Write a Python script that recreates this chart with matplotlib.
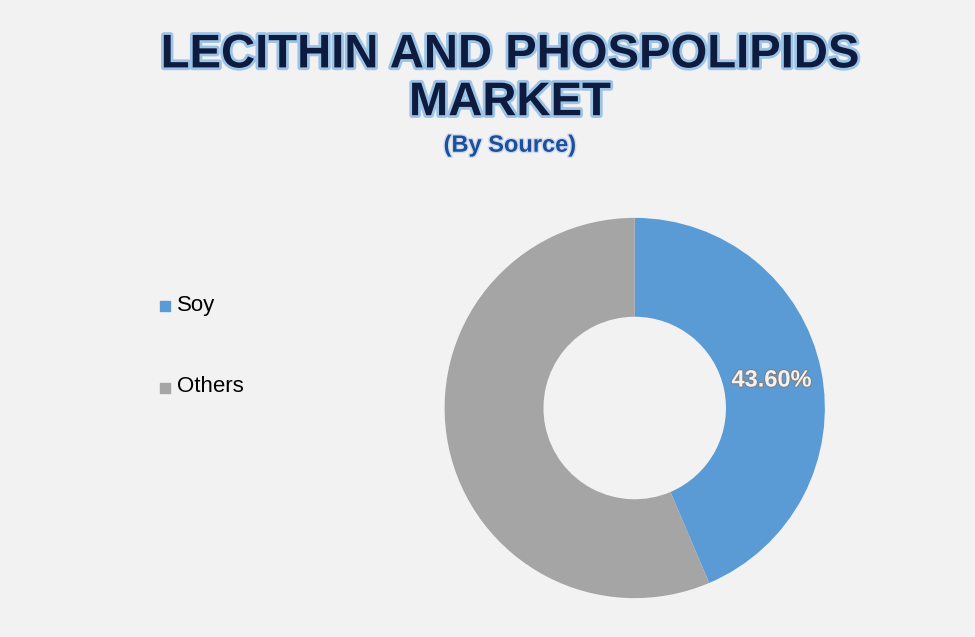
import matplotlib
matplotlib.use("Agg")
import matplotlib.pyplot as plt
import matplotlib.patheffects as pe

categories = ["Soy", "Others"]
values = [43.6, 56.4]
colors = ["#5b9bd5", "#a5a5a5"]

fig = plt.figure(figsize=(9.75, 6.37), dpi=100, facecolor="#f2f2f2")
glow = [pe.withStroke(linewidth=4, foreground="#9dc3e6")]
fig.text(0.523, 0.913, "LECITHIN AND PHOSPOLIPIDS", ha="center", va="center",
         fontsize=34, fontweight="bold", family="Liberation Sans", color="#0d1b3e", path_effects=glow)
fig.text(0.523, 0.838, "MARKET", ha="center", va="center",
         fontsize=34, fontweight="bold", family="Liberation Sans", color="#0d1b3e", path_effects=glow)
fig.text(0.523, 0.772, "(By Source)", ha="center", va="center",
         fontsize=17, fontweight="bold", family="Liberation Sans", color="#1f4e9a",
         path_effects=[pe.withStroke(linewidth=2, foreground="#c9d9ee")])

ax = fig.add_axes([0.456, 0.061, 0.39, 0.597])
wedges, _ = ax.pie(values, colors=colors, startangle=90, counterclock=False,
                   wedgeprops=dict(width=0.52, edgecolor="none"))
ax.set_xlim(-1, 1)
ax.set_ylim(-1, 1)
ax.set_aspect("equal")
ax.text(0.72, 0.147, f"{values[0]:.2f}%", ha="center", va="center", fontsize=17,
        fontweight="bold", family="Liberation Sans", color="#f2f2f2",
        path_effects=[pe.withStroke(linewidth=1.5, foreground="#7f7f7f")])

for i, (c, col) in enumerate(zip(categories, colors)):
    y = 1 - 305 / 637 - i * (82 / 637)
    fig.patches.append(plt.Rectangle((160 / 975, y - 0.009), 0.0105, 0.016,
                                     transform=fig.transFigure, color=col, figure=fig))
    fig.text(177 / 975, y, c, ha="left", va="center", fontsize=16,
             family="Liberation Sans", color="#000000")

fig.savefig("out.png", dpi=100, facecolor=fig.get_facecolor())
